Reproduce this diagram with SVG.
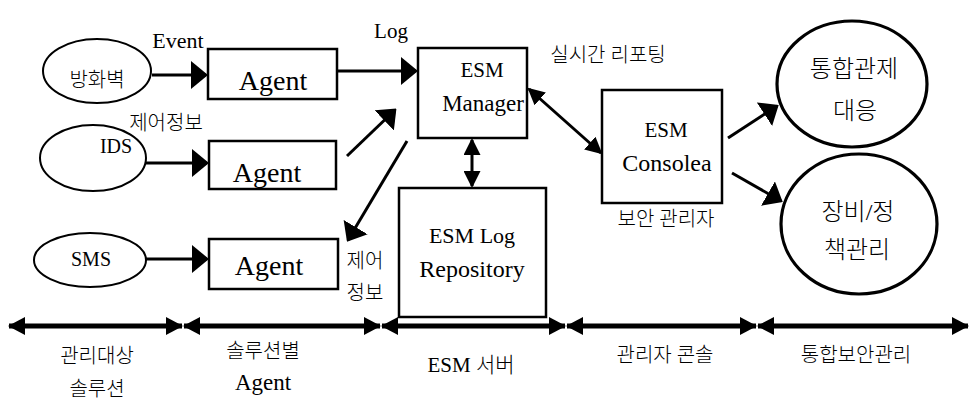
<svg xmlns="http://www.w3.org/2000/svg" width="970" height="399" viewBox="0 0 970 399">
<style>
text{font-family:"Liberation Serif","Noto Sans CJK KR",serif;fill:#000;text-anchor:middle;font-weight:300}
.k{font-size:20px}
.box{fill:#fff;stroke:#000;stroke-width:2.5}
.ell{fill:#fff;stroke:#000;stroke-width:2}
.cir{fill:#fff;stroke:#000;stroke-width:3.2}
.ln{stroke:#000;stroke-width:3;fill:none}
.ax{stroke:#000;stroke-width:5;fill:none;marker-start:url(#axh);marker-end:url(#axh)}
</style>
<defs>
<marker id="ah" markerUnits="userSpaceOnUse" markerWidth="17" markerHeight="28" refX="15" refY="14" orient="auto"><path d="M0,0L17,14L0,28z" fill="#000"/></marker>
<marker id="ah2" markerUnits="userSpaceOnUse" markerWidth="17" markerHeight="17" refX="15" refY="8.5" orient="auto-start-reverse"><path d="M0,0L17,8.5L0,17z" fill="#000"/></marker>
<marker id="axh" markerUnits="userSpaceOnUse" markerWidth="17" markerHeight="18" refX="16" refY="9" orient="auto-start-reverse"><path d="M0,0L17,9L0,18z" fill="#000"/></marker>
</defs>

<g id="connectors">
<line class="ln" x1="152" y1="75" x2="206" y2="75" marker-end="url(#ah)"/>
<line class="ln" x1="337" y1="71" x2="416" y2="71" marker-end="url(#ah)"/>
<line class="ln" x1="146" y1="163" x2="207" y2="163" marker-end="url(#ah)"/>
<line class="ln" x1="347" y1="156" x2="395" y2="110" marker-end="url(#ah)"/>
<line class="ln" x1="407" y1="141" x2="348" y2="240" marker-end="url(#ah)"/>
<line class="ln" x1="146" y1="259" x2="207" y2="259" marker-end="url(#ah)"/>
<line class="ln" x1="472" y1="140" x2="472" y2="186" marker-start="url(#ah2)" marker-end="url(#ah2)"/>
<line class="ln" x1="529" y1="89" x2="601" y2="153" marker-start="url(#ah2)" marker-end="url(#ah2)"/>
<line class="ln" x1="728" y1="138" x2="777" y2="106" marker-end="url(#ah)"/>
<line class="ln" x1="732" y1="173" x2="781" y2="201" marker-end="url(#ah)"/>
<line class="ax" x1="9" y1="326" x2="182" y2="326"/>
<line class="ax" x1="184" y1="326" x2="380" y2="326"/>
<line class="ax" x1="382" y1="326" x2="565" y2="326"/>
<line class="ax" x1="567" y1="326" x2="756" y2="326"/>
<line class="ax" x1="758" y1="326" x2="968" y2="326"/>
</g>

<g id="firewall"><ellipse class="ell" cx="97" cy="71" rx="54" ry="32"/><text class="k" x="97" y="87">방화벽</text></g>
<g id="ids"><ellipse class="ell" cx="93" cy="158" rx="53" ry="33"/><text x="116" y="153" font-size="20">IDS</text></g>
<g id="sms"><ellipse class="ell" cx="90" cy="260" rx="56" ry="27"/><text x="91" y="266" font-size="20">SMS</text></g>

<g id="agent1"><rect class="box" x="208" y="49" width="129" height="50"/><text x="273" y="90" font-size="28">Agent</text></g>
<g id="agent2"><rect class="box" x="209" y="141" width="127" height="48"/><text x="267" y="182" font-size="28">Agent</text></g>
<g id="agent3"><rect class="box" x="209" y="239" width="129" height="50"/><text x="269" y="275" font-size="28">Agent</text></g>

<g id="manager"><rect class="box" x="418" y="48" width="109" height="90"/><text x="482" y="77" font-size="21">ESM</text><text x="483" y="111" font-size="23">Manager</text></g>
<g id="repository"><rect class="box" x="399" y="188" width="147" height="129"/><text x="472" y="243" font-size="22">ESM Log</text><text x="472" y="277" font-size="24">Repository</text></g>
<g id="console"><rect class="box" x="602" y="90" width="120" height="113"/><text x="666" y="137" font-size="21">ESM</text><text x="667" y="171" font-size="24">Consolea</text></g>

<g id="control"><ellipse class="cir" cx="852" cy="84" rx="75" ry="63"/><text x="854" y="77" font-size="24">통합관제</text><text x="855" y="119" font-size="24">대응</text></g>
<g id="policy"><ellipse class="cir" cx="859" cy="224" rx="78" ry="70"/><text x="858" y="220" font-size="24">장비/정</text><text x="857" y="258" font-size="24">책관리</text></g>

<g id="labels">
<text x="178" y="48" font-size="22">Event</text>
<text x="391" y="38" font-size="21">Log</text>
<text class="k" x="166" y="130">제어정보</text>
<text class="k" x="608" y="62">실시간 리포팅</text>
<text class="k" x="666" y="226">보안 관리자</text>
<text class="k" x="365" y="268">제어</text>
<text class="k" x="365" y="300">정보</text>
<text class="k" x="97" y="363">관리대상</text>
<text class="k" x="97" y="396">솔루션</text>
<text class="k" x="263" y="358">솔루션별</text>
<text x="263" y="390" font-size="23">Agent</text>
<text x="471" y="372" font-size="21">ESM 서버</text>
<text class="k" x="665" y="362">관리자 콘솔</text>
<text class="k" x="856" y="362">통합보안관리</text>
</g>
</svg>
